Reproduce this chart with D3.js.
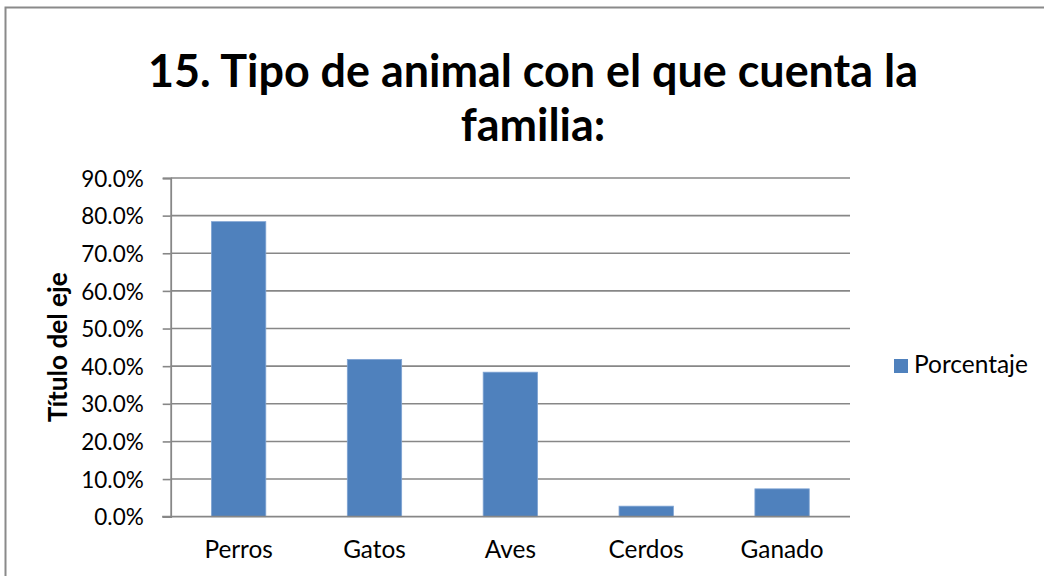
<!DOCTYPE html>
<html>
<head>
<meta charset="utf-8">
<script src="https://cdn.jsdelivr.net/npm/d3@7/dist/d3.min.js"></script>
<style>
  html, body { margin: 0; padding: 0; background: #fff; }
  svg { display: block; font-family: Lato, "Open Sans", sans-serif; }
</style>
</head>
<body>
<svg id="chart" width="1044" height="576"></svg>
<script>
// Data
const categories = ["Perros", "Gatos", "Aves", "Cerdos", "Ganado"];
const porcentaje = [0.784, 0.418, 0.384, 0.028, 0.074];
const yTicks = [0, 0.1, 0.2, 0.3, 0.4, 0.5, 0.6, 0.7, 0.8, 0.9];
const titleLines = ["15. Tipo de animal con el que cuenta la", "familia:"];
const seriesName = "Porcentaje";
const axisTitle = "Título del eje";

const svg = d3.select("#chart");
const W = 1044, H = 576;
const plot = { left: 170.7, right: 850, top: 178, bottom: 516.7 };
const gridColor = "#878787";
const barColor = "#4F81BD";

// Scale a text selection's font size so its widest item spans the given width
function fitWidth(sel, width) {
  let maxLen = 0;
  sel.each(function () { maxLen = Math.max(maxLen, this.getComputedTextLength()); });
  const fs = parseFloat(sel.attr("font-size"));
  sel.attr("font-size", fs * width / maxLen);
}

// Outer chart frame
svg.append("rect")
  .attr("x", 5.5).attr("y", 7.5)
  .attr("width", W + 10).attr("height", H + 10)
  .attr("fill", "#fff")
  .attr("stroke", "#8a8a8a").attr("stroke-width", 2);

const x = d3.scaleBand()
  .domain(categories)
  .range([plot.left, plot.right])
  .paddingInner(0.6)
  .paddingOuter(0.3);

const y = d3.scaleLinear()
  .domain([0, 0.9])
  .range([plot.bottom, plot.top]);

// Horizontal gridlines
svg.append("g")
  .selectAll("line")
  .data(yTicks.filter(t => t > 0))
  .join("line")
  .attr("x1", plot.left).attr("x2", plot.right)
  .attr("y1", d => y(d)).attr("y2", d => y(d))
  .attr("stroke", gridColor).attr("stroke-width", 1.6);

// Bars
svg.append("g")
  .selectAll("rect")
  .data(categories.map((c, i) => ({ c, v: porcentaje[i] })))
  .join("rect")
  .attr("x", d => x(d.c))
  .attr("y", d => y(d.v))
  .attr("width", x.bandwidth())
  .attr("height", d => y(0) - y(d.v))
  .attr("fill", barColor)
  .attr("stroke", "#7fa3d3").attr("stroke-width", 0.8);

// Y axis
const yAxis = d3.axisLeft(y)
  .tickValues(yTicks)
  .tickFormat(d3.format(".1%"))
  .tickSize(8)
  .tickPadding(19);
const gy = svg.append("g")
  .attr("transform", `translate(${plot.left},0)`)
  .call(yAxis);
gy.select(".domain").attr("stroke", gridColor).attr("stroke-width", 1.8);
gy.selectAll(".tick line").attr("stroke", gridColor).attr("stroke-width", 1.6);
const yLabels = gy.selectAll(".tick text")
  .attr("fill", "#000")
  .attr("font-size", 19.5)
  .attr("font-family", "Lato, sans-serif")
  .attr("dy", "0.36em");
fitWidth(yLabels, 62.5);

// X axis
const xAxis = d3.axisBottom(x).tickSize(0);
const gx = svg.append("g")
  .attr("transform", `translate(0,${plot.bottom})`)
  .call(xAxis);
gx.select(".domain").remove();
gx.append("line")
  .attr("x1", plot.left - 8.5).attr("x2", plot.right)
  .attr("y1", 0).attr("y2", 0)
  .attr("stroke", gridColor).attr("stroke-width", 1.8);
const xLabels = gx.selectAll(".tick text")
  .attr("fill", "#000")
  .attr("y", 41.5)
  .attr("dy", 0)
  .attr("font-size", 19.5)
  .attr("font-family", "Lato, sans-serif");
// widest label ("Perros") spans about 68px
fitWidth(gx.selectAll(".tick text").filter(d => d === "Perros"), 68.5);
xLabels.attr("font-size", gx.selectAll(".tick text").filter(d => d === "Perros").attr("font-size"));

// Axis title
const yTitle = svg.append("text")
  .attr("transform", `translate(67,${(plot.top + plot.bottom) / 2}) rotate(-90)`)
  .attr("text-anchor", "middle")
  .attr("font-weight", "bold")
  .attr("font-size", 19)
  .attr("fill", "#000")
  .text(axisTitle);
fitWidth(yTitle, 150);

// Chart title
const titleTexts = svg.append("g")
  .selectAll("text")
  .data(titleLines)
  .join("text")
  .attr("x", 533)
  .attr("y", (d, i) => 87 + i * 54)
  .attr("text-anchor", "middle")
  .attr("font-weight", "bold")
  .attr("font-size", 40)
  .attr("fill", "#000")
  .text(d => d);
fitWidth(titleTexts, 770);

// Legend
const legend = svg.append("g").attr("transform", "translate(894,359)");
legend.append("rect")
  .attr("width", 14).attr("height", 14)
  .attr("fill", barColor);
const legendText = legend.append("text")
  .attr("x", 20).attr("y", 14)
  .attr("font-size", 19.5)
  .attr("fill", "#000")
  .text(seriesName);
fitWidth(legendText, 114);
</script>
</body>
</html>
